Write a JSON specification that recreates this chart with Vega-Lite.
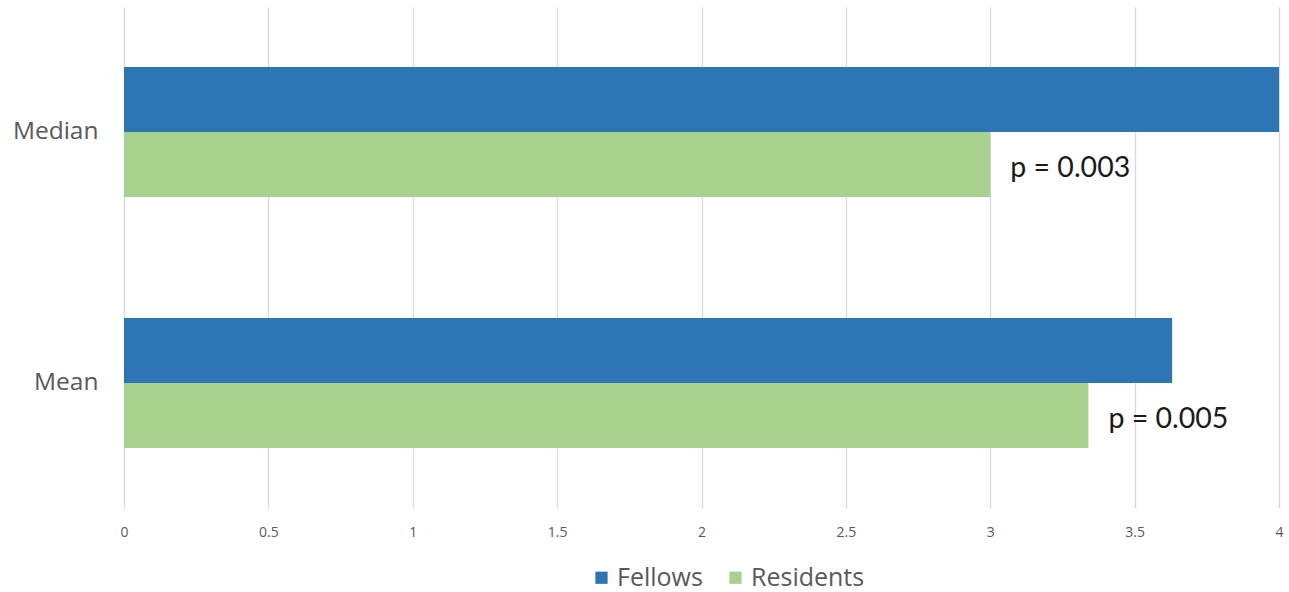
{
  "$schema": "https://vega.github.io/schema/vega-lite/v6.json",
  "autosize": {"type": "none"},
  "padding": {"left": 124, "top": 7, "right": 10, "bottom": 84},
  "width": 1155,
  "height": 501,
  "background": "white",
  "config": {"view": {"stroke": null}, "font": "Open Sans"},
  "data": {"values": [
    {"stat": "Median", "group": "Fellows", "value": 4.0, "label": ""},
    {"stat": "Median", "group": "Residents", "value": 3.0, "label": "p = 0.003"},
    {"stat": "Mean", "group": "Fellows", "value": 3.63, "label": ""},
    {"stat": "Mean", "group": "Residents", "value": 3.34, "label": "p = 0.005"}
  ]},
  "encoding": {
    "y": {"field": "stat", "type": "nominal", "sort": ["Median", "Mean"],
      "scale": {"paddingInner": 0.482, "paddingOuter": 0.239},
      "axis": {"title": null, "domain": false, "ticks": false, "labelPadding": 26, "labelFontSize": 24.5, "labelColor": "#595959", "labelFont": "Open Sans"}},
    "yOffset": {"field": "group", "type": "nominal", "sort": ["Fellows", "Residents"], "scale": {"paddingInner": 0, "paddingOuter": 0}},
    "x": {"field": "value", "type": "quantitative",
      "scale": {"domain": [0, 4], "nice": false},
      "axis": {"title": null, "domain": false, "ticks": false, "values": [0, 0.5, 1, 1.5, 2, 2.5, 3, 3.5, 4], "format": "~g", "labelPadding": 17, "labelFontSize": 14, "labelColor": "#595959", "gridColor": "#d9d9d9", "gridWidth": 1.3, "labelFlush": false}}
  },
  "layer": [
    {
      "mark": {"type": "bar"},
      "encoding": {
        "color": {"field": "group", "type": "nominal",
          "scale": {"domain": ["Fellows", "Residents"], "range": ["#2E75B6", "#A9D18E"]},
          "legend": {"title": null, "orient": "none", "direction": "horizontal", "legendX": 465, "legendY": 558, "symbolType": "square", "symbolSize": 150, "symbolStrokeWidth": 0, "labelFontSize": 25, "labelColor": "#595959", "labelFont": "Open Sans", "columnPadding": 20, "labelOffset": 3}}
      }
    },
    {
      "mark": {"type": "text", "align": "left", "baseline": "middle", "dx": 20, "dy": 3, "fontSize": 28.5, "font": "Lato", "color": "#1a1a1a"},
      "encoding": {"text": {"field": "label"}}
    }
  ]
}
